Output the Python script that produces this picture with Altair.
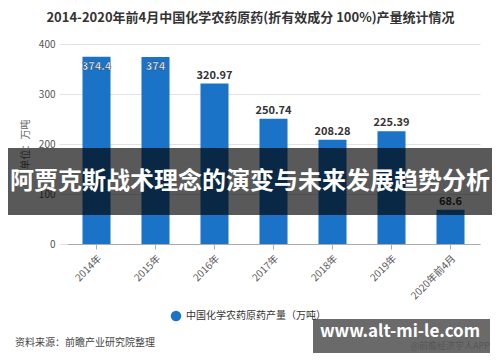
import altair as alt
import pandas as pd

years = ["2014年", "2015年", "2016年", "2017年", "2018年", "2019年", "2020年前4月"]
values = [374.4, 374, 320.97, 250.74, 208.28, 225.39, 68.6]
series_name = "中国化学农药原药产量（万吨）"
title_text = "2014-2020年前4月中国化学农药原药(折有效成分 100%)产量统计情况"
y_ticks = [0, 100, 200, 300, 400]
source_text = "资料来源：前瞻产业研究院整理"
banner_text = "阿贾克斯战术理念的演变与未来发展趋势分析"
site_text = "www.alt-mi-le.com"
app_text = "@前瞻经济学人APP"

FONT = "Noto Sans CJK SC"
BLUE = "#1a73c6"

df = pd.DataFrame({
    "year": years,
    "value": values,
    "label": [f"{v:g}" for v in values],
    "series": [series_name] * len(years),
})

x_enc = alt.X("year:N", sort=years, title=None,
              scale=alt.Scale(paddingInner=0.525, paddingOuter=0.2625),
              axis=alt.Axis(labelAngle=-45, labelColor="#555", labelFontSize=10,
                            labelFont=FONT, domainColor="#aaa", tickColor="#aaa",
                            tickSize=5, labelPadding=4))
y_enc = alt.Y("value:Q", scale=alt.Scale(domain=[0, 400]),
              axis=alt.Axis(values=y_ticks, gridColor="#e3e3e3", domain=False,
                            tickSize=8, tickColor="#e3e3e3", labelColor="#555",
                            labelFontSize=10, labelFont=FONT, labelPadding=4,
                            title="单位：万吨", titleFont=FONT, titleFontSize=10,
                            titleFontWeight="normal", titleColor="#666",
                            titlePadding=8))

base = alt.Chart(df)

bars = base.mark_bar(color=BLUE).encode(
    x=x_enc, y=y_enc,
    color=alt.Color("series:N", scale=alt.Scale(range=[BLUE]),
                    legend=alt.Legend(orient="none", legendX=103, legendY=266,
                                      title=None, symbolType="circle",
                                      symbolSize=110, labelFontSize=10,
                                      labelFont=FONT, labelColor="#333")),
)

labels_out = base.transform_filter("datum.value < 350").mark_text(
    dy=-8, fontSize=11, fontWeight="bold", color="#333", font=FONT
).encode(x=alt.X("year:N", sort=years), y="value:Q", text="label:N")

labels_in = base.transform_filter("datum.value >= 350").mark_text(
    dy=10, fontSize=11, fontWeight="bold", color="white", font=FONT,
    stroke="#1e3a5a", strokeWidth=0.4
).encode(x=alt.X("year:N", sort=years), y="value:Q", text="label:N")

deco = pd.DataFrame({"k": [0]})
dbase = alt.Chart(deco)

source = dbase.mark_text(align="left", fontSize=10, color="#444", font=FONT).encode(
    x=alt.value(-52), y=alt.value(299), text=alt.value(source_text))

banner = dbase.mark_rect(color="black", opacity=0.65).encode(
    x=alt.value(-67), x2=alt.value(425), y=alt.value(104), y2=alt.value(171))
banner_t = dbase.mark_text(fontSize=24, fontWeight="bold", color="white", font=FONT).encode(
    x=alt.value(183), y=alt.value(138), text=alt.value(banner_text))

app_t = dbase.mark_text(align="right", fontSize=9, color="#333", font=FONT).encode(
    x=alt.value(423), y=alt.value(302), text=alt.value(app_text))
box = dbase.mark_rect(color="#5a5a5a", opacity=0.9).encode(
    x=alt.value(246), x2=alt.value(423), y=alt.value(275), y2=alt.value(309))
site_t = dbase.mark_text(fontSize=17, fontWeight="bold", color="white", font=FONT).encode(
    x=alt.value(333), y=alt.value(288), text=alt.value(site_text))

chart = alt.layer(bars, labels_out, labels_in, source, banner, banner_t, app_t, box, site_t).properties(
    width=413, height=200,
    title=alt.TitleParams(title_text, anchor="middle", dx=-23, offset=14,
                          fontSize=13, fontWeight="bold", color="#333", font=FONT),
    autosize=alt.AutoSizeParams(type="none"),
    padding={"left": 59, "top": 36, "right": 12, "bottom": 110},
).configure_view(stroke=None)

chart.save("out.html", embed_options={"renderer": "svg", "actions": False})
